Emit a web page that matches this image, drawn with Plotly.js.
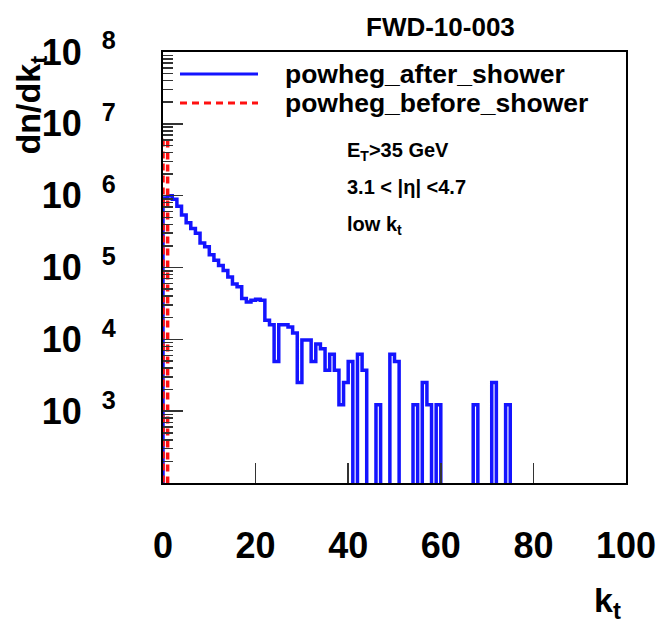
<!DOCTYPE html>
<html><head><meta charset="utf-8">
<script src="https://cdn.plot.ly/plotly-3.0.1.min.js"></script>
<style>html,body{margin:0;padding:0;background:#fff}</style>
</head><body><div id="chart" style="width:670px;height:623px"></div>
<script>
// ---- data ----
const binLow = 0, binHigh = 100, nBins = 100;
// dn/dk_t per 1-unit k_t bin (0..99), powheg after shower
const afterShower = [
  9.3e5, 1.0e6, 8.9e5, 7.1e5, 5.4e5, 4.2e5, 3.5e5, 3.0e5, 2.2e5, 1.95e5,
  1.5e5, 1.26e5, 1.07e5, 9.1e4, 7.4e4, 5.9e4, 5.4e4, 3.7e4, 3.3e4, 3.5e4,
  3.6e4, 3.5e4, 1.85e4, 1.6e4, 4.9e3, 1.6e4, 1.6e4, 1.48e4, 1.23e4, 2.5e3,
  9.8e3, 9.8e3, 4.9e3, 8.6e3, 7.4e3, 3.7e3, 6.2e3, 3.7e3, 1.23e3, 2.5e3,
  4.9e3, 0, 6.2e3, 3.7e3, 0, 0, 1.23e3, 0, 0, 6.2e3,
  4.9e3, 0, 0, 0, 1.23e3, 0, 2.5e3, 1.23e3, 0, 1.23e3,
  0, 0, 0, 0, 0, 0, 0, 1.23e3, 0, 0,
  0, 2.5e3, 0, 0, 1.23e3, 0, 0, 0, 0, 0,
  0, 0, 0, 0, 0, 0, 0, 0, 0, 0,
  0, 0, 0, 0, 0, 0, 0, 0, 0, 0
];
// powheg before shower
const beforeShower = [
  6.0e6, 0, 0, 0, 0, 0, 0, 0, 0, 0,
  0, 0, 0, 0, 0, 0, 0, 0, 0, 0,
  0, 0, 0, 0, 0, 0, 0, 0, 0, 0,
  0, 0, 0, 0, 0, 0, 0, 0, 0, 0,
  0, 0, 0, 0, 0, 0, 0, 0, 0, 0,
  0, 0, 0, 0, 0, 0, 0, 0, 0, 0,
  0, 0, 0, 0, 0, 0, 0, 0, 0, 0,
  0, 0, 0, 0, 0, 0, 0, 0, 0, 0,
  0, 0, 0, 0, 0, 0, 0, 0, 0, 0,
  0, 0, 0, 0, 0, 0, 0, 0, 0, 0
];
const seriesNames = ['powheg_after_shower', 'powheg_before_shower'];
const xTickVals = [0, 20, 40, 60, 80, 100];
const yExponents = [3, 4, 5, 6, 7, 8];

// ---- build ----
const FLOOR = 0.1; // empty bins drop below the axis floor (like ROOT log plots)
const edge = i => binLow + i * (binHigh - binLow) / nBins;
function stepXY(vals) {
  const xs = [binLow], ys = [FLOOR];
  for (let i = 0; i < vals.length; i++) { xs.push(edge(i)); ys.push(vals[i] > 0 ? vals[i] : FLOOR); }
  xs.push(edge(vals.length)); ys.push(FLOOR);
  return { xs, ys };
}
const a = stepXY(afterShower), b = stepXY(beforeShower);

const FONT = 'Liberation Sans, Arial, sans-serif';
const traces = [
  { x: a.xs, y: a.ys, type: 'scatter', mode: 'lines', name: seriesNames[0],
    line: { shape: 'hv', color: '#1414ff', width: 3.5 }, showlegend: false },
  { x: b.xs, y: b.ys, type: 'scatter', mode: 'lines', name: seriesNames[1],
    line: { shape: 'hv', color: '#ff1010', width: 3.5, dash: '7px,5px' }, showlegend: false }
];

// layout helpers (pixel -> paper)
const W = 670, H = 623, L = 163, R = 44, T = 52, B = 140;
const PW = W - L - R, PH = H - T - B;
const px = v => (v - L) / PW;
const py = v => (H - B - v) / PH;

const minorVals = [];
for (let d = 2; d < 8; d++) for (let k = 2; k <= 9; k++) minorVals.push(k * Math.pow(10, d));

const bold = (s, size, extra) => Object.assign({ text: s, showarrow: false, xref: 'paper', yref: 'paper',
  font: { family: FONT, size: size, color: '#000', weight: 'bold' } }, extra);

const layout = {
  width: W, height: H,
  margin: { l: L, r: R, t: T, b: B, pad: 0 },
  paper_bgcolor: '#fff', plot_bgcolor: '#fff',
  showlegend: false,
  xaxis: {
    range: [binLow, binHigh], tickmode: 'array', tickvals: xTickVals, ticktext: xTickVals.map(String),
    ticks: 'inside', ticklen: 20, tickwidth: 1.5, tickcolor: '#333',
    showline: true, mirror: true, linecolor: '#000', linewidth: 2,
    showgrid: false, zeroline: false, ticklabelstandoff: 30,
    tickfont: { family: FONT, size: 36, color: '#000', weight: 'bold' }
  },
  yaxis: {
    type: 'log', range: [2, 8], tickmode: 'array',
    tickvals: yExponents.map(e => Math.pow(10, e)),
    ticktext: yExponents.map(e => '10\u00a0\u00a0<sup>' + e + '</sup>'),
    ticks: 'inside', ticklen: 20, tickwidth: 1.5, tickcolor: '#333',
    minor: { tickmode: 'array', tickvals: minorVals, ticks: 'inside', ticklen: 10, tickwidth: 1.5, tickcolor: '#333', showgrid: false },
    showline: true, mirror: true, linecolor: '#000', linewidth: 2,
    showgrid: false, zeroline: false, ticklabelstandoff: 38,
    tickfont: { family: FONT, size: 36, color: '#000', weight: 'bold' }
  },
  shapes: [
    { type: 'line', xref: 'paper', yref: 'paper', x0: px(180), x1: px(258), y0: py(74), y1: py(74),
      line: { color: '#1414ff', width: 3 } },
    { type: 'line', xref: 'paper', yref: 'paper', x0: px(180), x1: px(258), y0: py(103), y1: py(103),
      line: { color: '#ff1010', width: 3, dash: '7px,5px' } }
  ],
  annotations: [
    bold('FWD-10-003', 26, { x: px(440), y: py(27), xanchor: 'center', yanchor: 'middle' }),
    bold(seriesNames[0], 26.5, { x: px(283), y: py(74), xanchor: 'left', yanchor: 'middle' }),
    bold(seriesNames[1], 26.5, { x: px(283), y: py(103), xanchor: 'left', yanchor: 'middle' }),
    bold('E<sub>T</sub>&gt;35 GeV', 20, { x: px(345), y: py(151), xanchor: 'left', yanchor: 'middle' }),
    bold('3.1 &lt; |η| &lt;4.7', 20, { x: px(345), y: py(187), xanchor: 'left', yanchor: 'middle' }),
    bold('low k<sub>t</sub>', 20, { x: px(345), y: py(226), xanchor: 'left', yanchor: 'middle' }),
    bold('dn/dk<sub>t</sub>', 34, { x: px(30), y: py(54), xanchor: 'center', yanchor: 'top', textangle: -90 }),
    bold('k<sub>t</sub>', 34, { x: px(607), y: py(602), xanchor: 'center', yanchor: 'middle' })
  ]
};

Plotly.newPlot('chart', traces, layout, { staticPlot: true, displayModeBar: false });
</script></body></html>
